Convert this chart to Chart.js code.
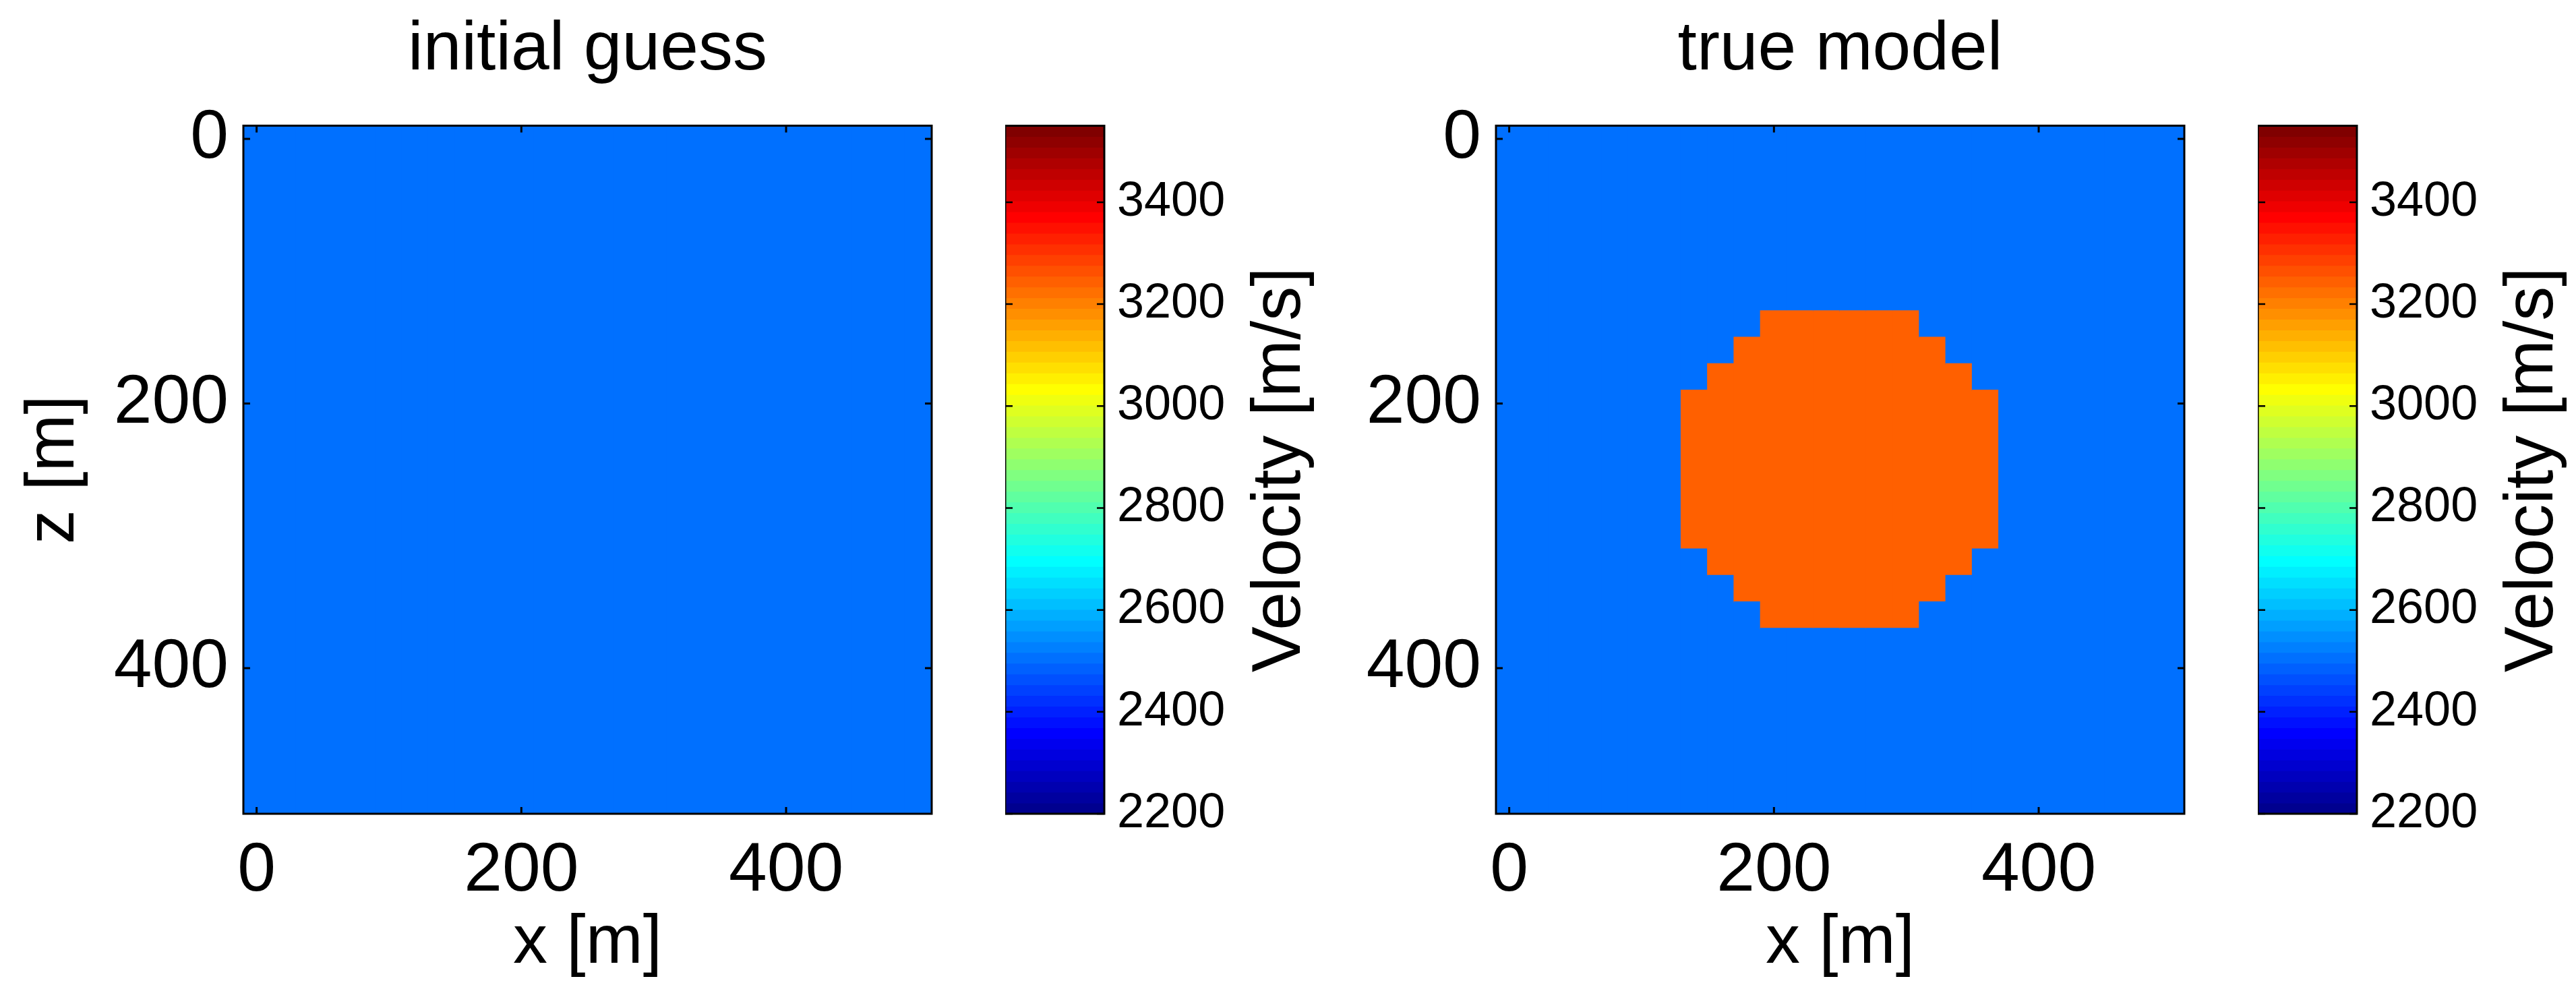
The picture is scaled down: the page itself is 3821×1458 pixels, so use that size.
<!DOCTYPE html>
<html>
<head>
<meta charset="utf-8">
<title>initial guess / true model</title>
<script src="https://cdn.jsdelivr.net/npm/chart.js@4/dist/chart.umd.min.js"></script>
<style>
  html, body { margin: 0; padding: 0; background: #fff; }
  body { width: 3821px; height: 1458px; position: relative; overflow: hidden; }
  canvas { position: absolute; top: 0; }
</style>
</head>
<body>
<canvas id="mapA" width="1420" height="1458" style="left:0px"></canvas>
<canvas id="barA" width="470" height="1458" style="left:1491px"></canvas>
<canvas id="mapB" width="1420" height="1458" style="left:1858px"></canvas>
<canvas id="barB" width="470" height="1458" style="left:3349px"></canvas>
<script>
// cell centres of the 20 m model grid
const xCells = [0, 20, 40, 60, 80, 100, 120, 140, 160, 180, 200, 220, 240, 260, 280, 300, 320, 340, 360, 380, 400, 420, 440, 460, 480, 500];
const zCells = [0, 20, 40, 60, 80, 100, 120, 140, 160, 180, 200, 220, 240, 260, 280, 300, 320, 340, 360, 380, 400, 420, 440, 460, 480, 500];
const xTicks = [0, 200, 400];
const zTicks = [0, 200, 400];
const cbTicks = [2200, 2400, 2600, 2800, 3000, 3200, 3400];
const cLimits = [2200, 3550];

// velocities: '0' = background, '1' = anomaly
const vBackground = 2500;
const vAnomaly = 3250;

// rows run down in z, columns across in x
const initialRows = [
  "00000000000000000000000000",
  "00000000000000000000000000",
  "00000000000000000000000000",
  "00000000000000000000000000",
  "00000000000000000000000000",
  "00000000000000000000000000",
  "00000000000000000000000000",
  "00000000000000000000000000",
  "00000000000000000000000000",
  "00000000000000000000000000",
  "00000000000000000000000000",
  "00000000000000000000000000",
  "00000000000000000000000000",
  "00000000000000000000000000",
  "00000000000000000000000000",
  "00000000000000000000000000",
  "00000000000000000000000000",
  "00000000000000000000000000",
  "00000000000000000000000000",
  "00000000000000000000000000",
  "00000000000000000000000000",
  "00000000000000000000000000",
  "00000000000000000000000000",
  "00000000000000000000000000",
  "00000000000000000000000000",
  "00000000000000000000000000"
];
const trueRows = [
  "00000000000000000000000000",
  "00000000000000000000000000",
  "00000000000000000000000000",
  "00000000000000000000000000",
  "00000000000000000000000000",
  "00000000000000000000000000",
  "00000000000000000000000000",
  "00000000001111110000000000",
  "00000000011111111000000000",
  "00000000111111111100000000",
  "00000001111111111110000000",
  "00000001111111111110000000",
  "00000001111111111110000000",
  "00000001111111111110000000",
  "00000001111111111110000000",
  "00000001111111111110000000",
  "00000000111111111100000000",
  "00000000011111111000000000",
  "00000000001111110000000000",
  "00000000000000000000000000",
  "00000000000000000000000000",
  "00000000000000000000000000",
  "00000000000000000000000000",
  "00000000000000000000000000",
  "00000000000000000000000000",
  "00000000000000000000000000"
];

const FONT = 'Liberation Sans';
Chart.defaults.font.family = FONT;
Chart.defaults.color = '#000';
Chart.defaults.animation = false;

// matlab style jet(64)
function jetMap(m) {
  const n = Math.ceil(m / 4);
  const u = [];
  for (let i = 1; i <= n; i++) u.push(i / n);
  for (let i = 1; i < n; i++) u.push(1);
  for (let i = n; i >= 1; i--) u.push(i / n);
  const g0 = Math.ceil(n / 2) - (m % 4 === 1 ? 1 : 0);
  const map = [];
  for (let i = 0; i < m; i++) map.push([0, 0, 0]);
  u.forEach((val, k) => {
    const g = g0 + k + 1, r = g + n, b = g - n;
    if (g >= 1 && g <= m) map[g - 1][1] = val;
    if (r >= 1 && r <= m) map[r - 1][0] = val;
    if (b >= 1 && b <= m) map[b - 1][2] = val;
  });
  return map.map(c => 'rgb(' + c.map(v => Math.round(v * 255)).join(',') + ')');
}
const jet = jetMap(64);
function colorFor(v) {
  let i = Math.floor((v - cLimits[0]) / (cLimits[1] - cLimits[0]) * jet.length);
  return jet[Math.max(0, Math.min(jet.length - 1, i))];
}

const half = (xCells[1] - xCells[0]) / 2;

// one floating bar per run of equal cells in each column
function columnRuns(rows) {
  const data = [], colors = [];
  xCells.forEach((x, j) => {
    let start = 0;
    for (let i = 1; i <= zCells.length; i++) {
      if (i === zCells.length || rows[i][j] !== rows[start][j]) {
        const v = rows[start][j] === '1' ? vAnomaly : vBackground;
        data.push({x: x, y: [zCells[start] - half, zCells[i - 1] + half]});
        colors.push(colorFor(v));
        start = i;
      }
    }
  });
  return {data, colors};
}

// box round the plot and inward tick marks
const frame = {
  id: 'frame',
  afterDraw(chart, args, opts) {
    const {ctx, chartArea: a} = chart;
    const L = opts.tickLength;
    ctx.save();
    ctx.strokeStyle = '#000';
    ctx.lineWidth = opts.tickWidth;
    ctx.beginPath();
    Object.values(chart.scales).forEach(s => {
      if (s.options.display === false) return;
      s.ticks.forEach(t => {
        const p = s.getPixelForValue(t.value);
        if (s.isHorizontal()) {
          ctx.moveTo(p, a.top); ctx.lineTo(p, a.top + L);
          ctx.moveTo(p, a.bottom); ctx.lineTo(p, a.bottom - L);
        } else {
          ctx.moveTo(a.left, p); ctx.lineTo(a.left + L, p);
          ctx.moveTo(a.right, p); ctx.lineTo(a.right - L, p);
        }
      });
    });
    ctx.stroke();
    ctx.lineWidth = opts.lineWidth;
    ctx.strokeRect(a.left, a.top, a.width, a.height);
    ctx.restore();
  }
};

// colorbar label, reads bottom to top
const cbLabel = {
  id: 'cbLabel',
  afterDraw(chart, args, opts) {
    const {ctx, chartArea: a} = chart;
    ctx.save();
    ctx.translate(a.right + opts.offset, (a.top + a.bottom) / 2);
    ctx.rotate(-Math.PI / 2);
    ctx.font = opts.size + 'px "' + FONT + '"';
    ctx.fillStyle = '#000';
    ctx.textAlign = 'center';
    ctx.textBaseline = 'alphabetic';
    ctx.fillText(opts.text, 0, 0);
    ctx.restore();
  }
};

function makeMap(id, title, rows, showZ) {
  const runs = columnRuns(rows);
  new Chart(document.getElementById(id), {
    type: 'bar',
    data: {
      datasets: [{
        data: runs.data,
        backgroundColor: runs.colors,
        borderWidth: 0,
        barPercentage: 1,
        categoryPercentage: 1,
        inflateAmount: 1
      }]
    },
    options: {
      responsive: false,
      layout: {padding: {left: 0, right: 38, top: 0, bottom: 0}},
      plugins: {
        legend: {display: false},
        tooltip: {enabled: false},
        title: {
          display: true, text: title, fullSize: false,
          font: {size: 102, weight: 'normal', lineHeight: 1.2},
          color: '#000',
          padding: {top: 14, bottom: 50}
        },
        frame: {tickLength: 10, tickWidth: 3, lineWidth: 3}
      },
      scales: {
        x: {
          type: 'linear', offset: false,
          min: xCells[0] - half, max: xCells[xCells.length - 1] + half,
          grid: {display: false, drawTicks: false},
          border: {display: false},
          afterBuildTicks: s => { s.ticks = xTicks.map(v => ({value: v})); },
          afterFit: s => { s.height = 251; },
          ticks: {font: {size: 102, lineHeight: 1}, color: '#000', padding: 35,
                  maxRotation: 0, autoSkip: false, callback: v => String(v)},
          title: {display: true, text: 'x [m]', color: '#000',
                  font: {size: 102, lineHeight: 1}, padding: {top: 0, bottom: 7}}
        },
        y: {
          type: 'linear', reverse: true,
          min: zCells[0] - half, max: zCells[zCells.length - 1] + half,
          grid: {display: false, drawTicks: false},
          border: {display: false},
          afterBuildTicks: s => { s.ticks = zTicks.map(v => ({value: v})); },
          afterFit: s => { s.width = 361; },
          ticks: {font: {size: 102, lineHeight: 1}, color: '#000', padding: 22,
                  autoSkip: false, callback: v => String(v)},
          title: {display: showZ, text: 'z [m]', color: '#000',
                  font: {size: 102, lineHeight: 1}, padding: {top: 30, bottom: 0}}
        }
      }
    },
    plugins: [frame]
  });
}

function makeColorbar(id) {
  const n = jet.length;
  const step = (cLimits[1] - cLimits[0]) / n;
  const bands = jet.map((c, k) => ({x: 'v', y: [cLimits[0] + k * step, cLimits[0] + (k + 1) * step]}));
  new Chart(document.getElementById(id), {
    type: 'bar',
    data: {
      labels: ['v'],
      datasets: [{
        data: bands,
        backgroundColor: jet,
        borderWidth: 0,
        barPercentage: 1,
        categoryPercentage: 1,
        inflateAmount: 0.5
      }]
    },
    options: {
      responsive: false,
      layout: {padding: {left: 0, right: 0, top: 186.5, bottom: 251}},
      plugins: {
        legend: {display: false},
        tooltip: {enabled: false},
        frame: {tickLength: 11, tickWidth: 2.5, lineWidth: 3},
        cbLabel: {text: 'Velocity [m/s]', size: 102, offset: 290}
      },
      scales: {
        x: {display: false},
        y: {
          position: 'right',
          min: cLimits[0], max: cLimits[1],
          grid: {display: false, drawTicks: false},
          border: {display: false},
          afterBuildTicks: s => { s.ticks = cbTicks.map(v => ({value: v})); },
          afterFit: s => { s.width = 323; },
          ticks: {font: {size: 72, lineHeight: 1}, color: '#000', padding: 19,
                  autoSkip: false, callback: v => String(v)}
        }
      }
    },
    plugins: [frame, cbLabel]
  });
}

makeMap('mapA', 'initial guess', initialRows, true);
makeColorbar('barA');
makeMap('mapB', 'true model', trueRows, false);
makeColorbar('barB');
</script>
</body>
</html>
